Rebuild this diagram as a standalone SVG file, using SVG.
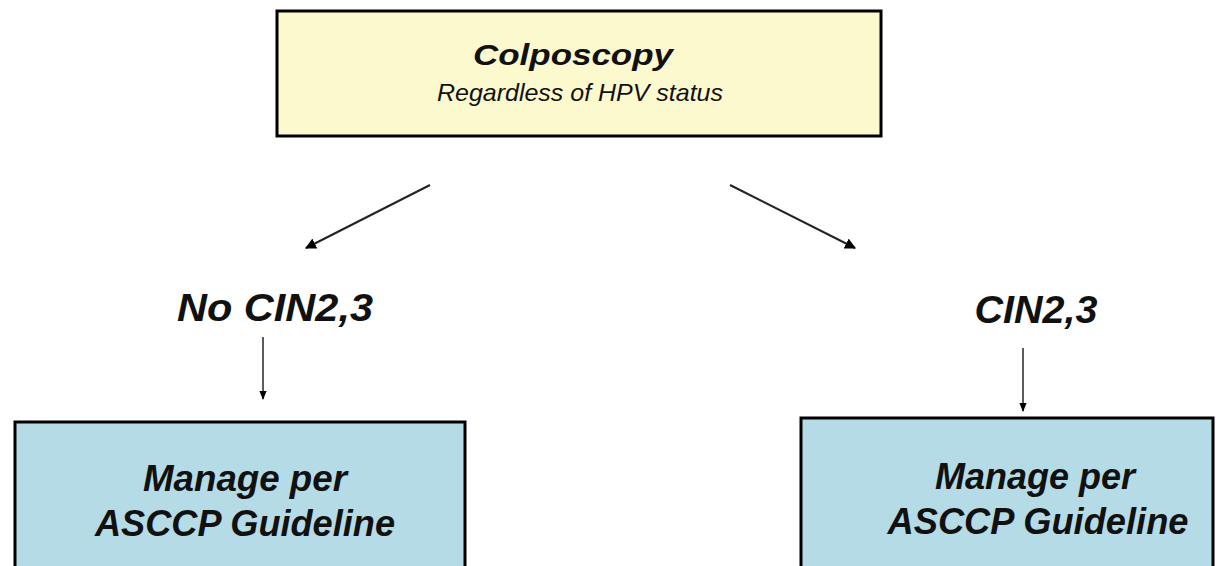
<svg xmlns="http://www.w3.org/2000/svg" width="1227" height="566" viewBox="0 0 1227 566">
<defs>
<marker id="ah" viewBox="0 0 10 10" refX="9" refY="5" markerWidth="11" markerHeight="11" markerUnits="userSpaceOnUse" orient="auto">
<path d="M0,0 L10,5 L0,10 z" fill="#000"/>
</marker>
<marker id="ahs" viewBox="0 0 10 10" refX="9" refY="5" markerWidth="9" markerHeight="9" markerUnits="userSpaceOnUse" orient="auto">
<path d="M0,1 L10,5 L0,9 z" fill="#000"/>
</marker>
<style>
.box{stroke:#000;stroke-width:3}
.y{fill:#FDF9CF}
.b{fill:#B5DCE6}
.t{font-family:"Liberation Sans",Arial,sans-serif;font-style:italic;text-anchor:middle;fill:#111}
.bold{font-weight:bold}
.con{stroke:#222;stroke-width:2;fill:none}
.vcon{stroke:#333;stroke-width:1.6;fill:none}
</style>
</defs>
<rect width="1227" height="566" fill="#fff"/>
<g id="colposcopy">
<rect class="box y" x="277" y="11" width="604" height="125"/>
<text class="t bold" x="573" y="65" font-size="30" textLength="200" lengthAdjust="spacingAndGlyphs">Colposcopy</text>
<text class="t" x="580" y="101" font-size="24" textLength="286" lengthAdjust="spacingAndGlyphs">Regardless of HPV status</text>
</g>
<g id="no-cin">
<text class="t bold" x="275" y="321" font-size="39" textLength="196" lengthAdjust="spacingAndGlyphs">No CIN2,3</text>
</g>
<g id="cin">
<text class="t bold" x="1036" y="323" font-size="39" textLength="123" lengthAdjust="spacingAndGlyphs">CIN2,3</text>
</g>
<g id="manage-left">
<rect class="box b" x="15" y="422" width="450" height="150"/>
<text class="t bold" x="245" y="491" font-size="37" textLength="204" lengthAdjust="spacingAndGlyphs">Manage per</text>
<text class="t bold" x="245" y="536" font-size="37" textLength="300" lengthAdjust="spacingAndGlyphs">ASCCP Guideline</text>
</g>
<g id="manage-right">
<rect class="box b" x="801" y="418" width="412" height="154"/>
<text class="t bold" x="1035" y="489" font-size="37" textLength="200" lengthAdjust="spacingAndGlyphs">Manage per</text>
<text class="t bold" x="1038" y="534" font-size="37" textLength="301" lengthAdjust="spacingAndGlyphs">ASCCP Guideline</text>
</g>
<g id="connectors">
<line class="con" x1="430" y1="185" x2="306" y2="248" marker-end="url(#ah)"/>
<line class="con" x1="730" y1="185" x2="855" y2="248" marker-end="url(#ah)"/>
<line class="vcon" x1="263" y1="337" x2="263" y2="399" marker-end="url(#ahs)"/>
<line class="vcon" x1="1023" y1="348" x2="1023" y2="411" marker-end="url(#ahs)"/>
</g>
</svg>
